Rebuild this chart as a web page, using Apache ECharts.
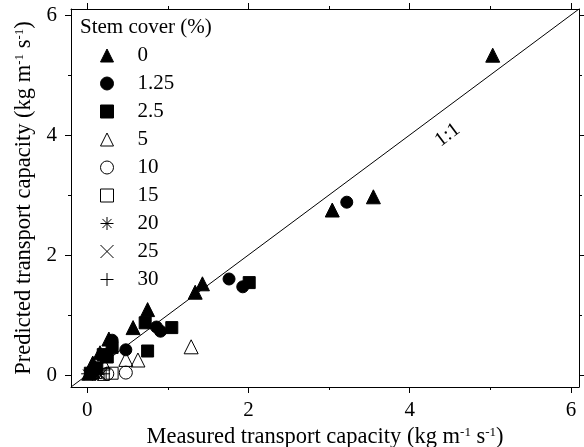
<!DOCTYPE html>
<html>
<head>
<meta charset="utf-8">
<script src="https://cdn.jsdelivr.net/npm/echarts@6/dist/echarts.min.js"></script>
<style>
html,body{margin:0;padding:0;background:#fff;}
#chart{width:584px;height:447px;}
</style>
</head>
<body>
<div id="chart"></div>
<script>
// ---- data: [measured, predicted] ----
const cover0   = [[5.03,5.33],[3.55,2.97],[3.04,2.75],[1.43,1.52],[1.34,1.38],[0.75,1.09],[0.57,0.79],[0.27,0.60],[0.16,0.37],[0.07,0.20],[0.02,0.03]];
const cover125 = [[3.22,2.88],[1.76,1.60],[1.93,1.47],[0.86,0.80],[0.91,0.73],[0.48,0.42],[0.31,0.58],[0.05,0.02]];
const cover25  = [[2.01,1.54],[1.05,0.79],[0.72,0.87],[0.75,0.40],[0.31,0.46],[0.20,0.34],[0.25,0.30],[0.12,0.12],[0.04,0.03]];
const cover5   = [[1.29,0.47],[0.63,0.25],[0.48,0.26],[0.20,0.20],[0.10,0.06]];
const cover10  = [[0.48,0.04],[0.25,0.02]];
const cover15  = [[0.31,0.03],[0.20,0.01]];
const cover20  = [[0.00,0.02],[0.07,0.00],[0.13,0.03]];
const cover25b = [[0.03,0.00],[0.10,0.03],[0.17,0.00]];
const cover30  = [[0.05,0.03],[0.14,0.01],[0.21,0.02]];
const legendNames = ['0','1.25','2.5','5','10','15','20','25','30'];
const axisMin = -0.2, axisMax = 6.1;
const majorTicks = [0,2,4,6];
const minorTicks = [1,3,5];
const oneToOne = [[axisMin,axisMin],[axisMax,axisMax]];
const lineLabelAt = [4.47,4.0];

const FONT = 'Liberation Serif';
const ASTER = 'path://M5,0L5,10M0,5L10,5M1.5,1.5L8.5,8.5M8.5,1.5L1.5,8.5';
const CROSS = 'path://M0,0L10,10M10,0L0,10';
const PLUS  = 'path://M5,0L5,10M0,5L10,5';

const seriesDefs = [
  {name:legendNames[0], data:cover0,   symbol:'triangle', size:14, fill:'#000'},
  {name:legendNames[1], data:cover125, symbol:'circle',   size:12, fill:'#000'},
  {name:legendNames[2], data:cover25,  symbol:'rect',     size:12, fill:'#000'},
  {name:legendNames[3], data:cover5,   symbol:'triangle', size:14, fill:'transparent'},
  {name:legendNames[4], data:cover10,  symbol:'circle',   size:13, fill:'transparent'},
  {name:legendNames[5], data:cover15,  symbol:'rect',     size:12, fill:'transparent'},
  {name:legendNames[6], data:cover20,  symbol:ASTER,      size:12, fill:'transparent'},
  {name:legendNames[7], data:cover25b, symbol:CROSS,      size:11, fill:'transparent'},
  {name:legendNames[8], data:cover30,  symbol:PLUS,       size:12, fill:'transparent'}
];

const richName = {
  t:{fontFamily:FONT,fontSize:22.5,color:'#000'},
  s:{fontFamily:FONT,fontSize:13,color:'#000',verticalAlign:'top',padding:[0,0,5,0]}
};

function axisBase(extra){
  return Object.assign({
    type:'value', min:axisMin, max:axisMax,
    splitLine:{show:false},
    axisLine:{show:true,onZero:false,lineStyle:{color:'#000',width:1}},
    axisLabel:{show:false},
    axisTick:{show:true,inside:false,length:6,customValues:majorTicks,lineStyle:{color:'#000',width:1}}
  }, extra);
}
function minorAxis(pos){
  return axisBase({position:pos, axisLine:{show:false,onZero:false},
    axisTick:{show:true,inside:false,length:3,customValues:minorTicks,lineStyle:{color:'#000',width:1}}});
}

const series = [{
  type:'line', data:oneToOne, symbol:'none', silent:true, z:1,
  lineStyle:{color:'#000',width:1},
  xAxisIndex:0, yAxisIndex:0,
  markPoint:{symbol:'circle',symbolSize:0,
    label:{show:true,formatter:'1:1',rotate:37,fontFamily:FONT,fontSize:20,color:'#000',position:'inside'},
    data:[{coord:lineLabelAt}]}
}];
seriesDefs.forEach(d=>{
  series.push({
    type:'scatter', name:d.name, data:d.data, symbol:d.symbol, symbolSize:d.size,
    xAxisIndex:0, yAxisIndex:0, z:3,
    itemStyle:{color:d.fill, borderColor:'#000', borderWidth:1, opacity:1}
  });
});

const chart = echarts.init(document.getElementById('chart'), null, {renderer:'canvas'});
chart.setOption({
  animation:false,
  backgroundColor:'#fff',
  grid:{left:71,right:5,top:9,bottom:60,containLabel:false,outerBoundsMode:'none'},
  title:{text:'Stem cover (%)',left:80,top:17,padding:0,
    textStyle:{fontFamily:FONT,fontSize:21,fontWeight:'normal',color:'#000'}},
  legend:{
    orient:'vertical', left:100, top:45, padding:0, itemWidth:13, itemHeight:13, itemGap:7,
    selectedMode:false,
    textStyle:{fontFamily:FONT,fontSize:21,color:'#000',lineHeight:21,padding:[0,0,0,19]},
    data:seriesDefs.map(d=>({name:d.name, icon:d.symbol,
      itemStyle:{color:d.fill,borderColor:'#000',borderWidth:1}}))
  },
  xAxis:[
    axisBase({position:'bottom',
      axisLabel:{show:true,customValues:majorTicks,margin:13,fontFamily:FONT,fontSize:21,color:'#000'},
      name:'{t|Measured transport capacity (kg m}{s|-1}{t| s}{s|-1}{t|)}',
      nameLocation:'middle', nameGap:37,
      nameTextStyle:{fontFamily:FONT,fontSize:22.5,color:'#000',rich:richName}}),
    minorAxis('bottom'),
    axisBase({position:'top'}),
    minorAxis('top')
  ],
  yAxis:[
    axisBase({position:'left',
      axisLabel:{show:true,customValues:majorTicks,margin:14,fontFamily:FONT,fontSize:21,color:'#000'},
      name:'{t|Predicted transport capacity (kg m}{s|-1}{t| s}{s|-1}{t|)}',
      nameLocation:'middle', nameGap:28,
      nameTextStyle:{fontFamily:FONT,fontSize:22.5,color:'#000',rich:richName}}),
    minorAxis('left'),
    axisBase({position:'right'}),
    minorAxis('right')
  ],
  series:series
});
</script>
</body>
</html>
